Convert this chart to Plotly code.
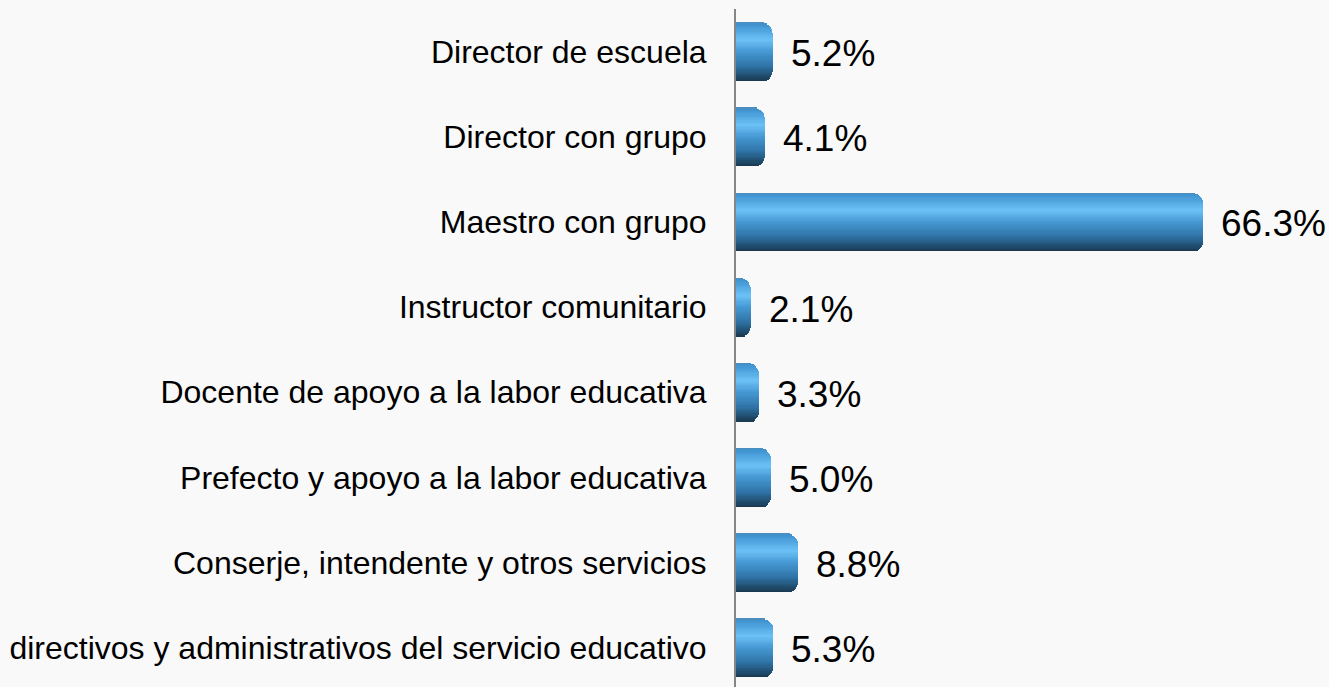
import plotly.graph_objects as go
import math

categories = [
    "Director de escuela",
    "Director con grupo",
    "Maestro con grupo",
    "Instructor comunitario",
    "Docente de apoyo a la labor educativa",
    "Prefecto y apoyo a la labor educativa",
    "Conserje, intendente y otros servicios",
    "directivos y administrativos del servicio educativo",
]
values = [5.2, 4.1, 66.3, 2.1, 3.3, 5.0, 8.8, 5.3]
labels = ["5.2%", "4.1%", "66.3%", "2.1%", "3.3%", "5.0%", "8.8%", "5.3%"]

# style
W, H = 1329, 687
ML, MR, MT, MB = 736, 29, 9, 0
XMAX = 80
BAR_W = 0.69
N = 50
R_PX = 12
FONT = "Liberation Sans, Arial, sans-serif"

plot_w = W - ML - MR
px_per_unit = plot_w / XMAX
cat_span = 7.96
px_per_cat = (H - MT - MB) / cat_span
bar_px = BAR_W * px_per_cat

stops = [
    (0.00, (80, 140, 185)),
    (0.04, (63, 147, 208)),
    (0.30, (108, 193, 246)),
    (0.50, (69, 152, 211)),
    (0.75, (47, 115, 166)),
    (0.92, (31, 75, 107)),
    (1.00, (26, 56, 78)),
]

def grad(t):
    for (t0, c0), (t1, c1) in zip(stops[:-1], stops[1:]):
        if t0 <= t <= t1:
            f = (t - t0) / (t1 - t0) if t1 > t0 else 0
            c = [round(a + (b - a) * f) for a, b in zip(c0, c1)]
            return "rgb(%d,%d,%d)" % tuple(c)
    return "rgb(%d,%d,%d)" % stops[-1][1]

fig = go.Figure()
sw = BAR_W / N
for i in range(N):
    t = (i + 0.5) / N
    d = min(t, 1 - t) * bar_px  # px from nearest edge
    if d < R_PX:
        inset = R_PX - math.sqrt(max(R_PX**2 - (R_PX - d) ** 2, 0))
    else:
        inset = 0
    xs = [max(v - inset / px_per_unit, 0) for v in values]
    width = sw * 2 if i < N - 1 else sw
    fig.add_trace(go.Bar(
        x=xs, y=categories, orientation="h",
        width=width, offset=-BAR_W / 2 + i * sw,
        marker=dict(color=grad(t), line=dict(width=0)),
        hoverinfo="skip", showlegend=False,
    ))

for c, v, lab in zip(categories, values, labels):
    fig.add_annotation(
        x=v, y=c, text=lab, showarrow=False, xanchor="left", yanchor="middle",
        xshift=16, yshift=-2, font=dict(family=FONT, size=37, color="black"),
    )

fig.update_layout(
    width=W, height=H,
    margin=dict(l=ML, r=MR, t=MT, b=MB, autoexpand=False),
    barmode="overlay", bargap=0,
    paper_bgcolor="#f9f9f9", plot_bgcolor="#f9f9f9",
    font=dict(family=FONT, color="black"),
    xaxis=dict(range=[0, XMAX], visible=False, showgrid=False, zeroline=False,
               automargin=False),
    yaxis=dict(
        type="category", range=[-0.5 + cat_span, -0.5], automargin=False,
        showgrid=False, zeroline=False,
        showline=True, linecolor="#868686", linewidth=2,
        ticks="", ticklabelstandoff=21,
        tickfont=dict(family=FONT, size=32, color="black"),
    ),
)

fig.write_html(
    "out.html",
    config={"displayModeBar": False, "staticPlot": True},
    post_script="document.body.style.margin='0';document.body.style.overflow='hidden';",
)
